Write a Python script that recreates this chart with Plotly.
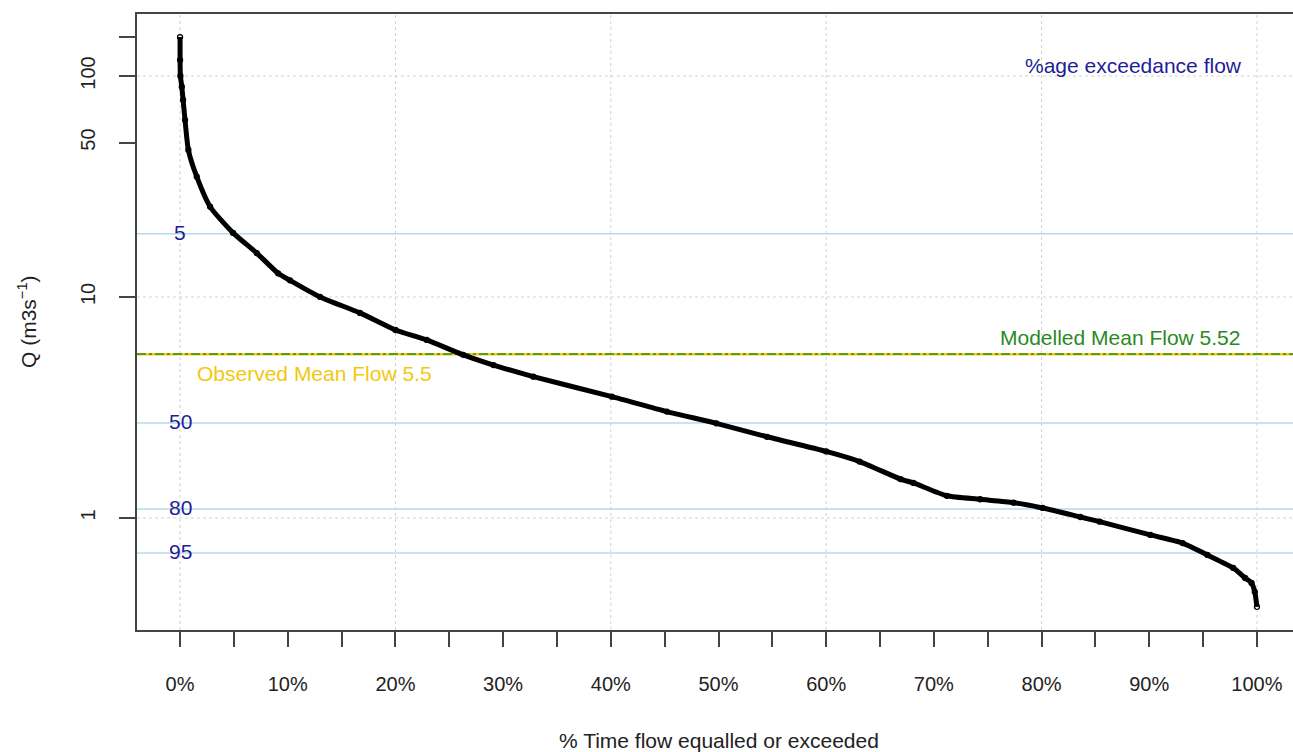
import math
import plotly.graph_objects as go

# ---- data ----
pct_exceed = [0.0, 0.0, 0.03, 0.16, 0.28, 0.46, 0.77, 1.55, 2.79, 4.92,
              7.12, 9.1, 10.2, 13.0, 16.7, 20.0, 22.9, 26.3, 29.1, 32.8, 40.1, 45.2, 49.8,
              54.5, 60.0, 63.1, 66.9, 68.1, 71.2, 74.3, 77.4, 80.1, 83.6, 85.4, 90.1, 93.1,
              95.4, 97.8, 98.9, 99.5, 99.8, 100.0]
flow_q = [150, 118, 100, 89.4, 77.9, 63.2, 46.3, 35.0, 25.6, 19.5,
          15.8, 12.8, 11.9, 10.0, 8.47, 7.09, 6.39, 5.47, 4.92, 4.36, 3.54, 3.03, 2.68,
          2.33, 2.00, 1.80, 1.50, 1.44, 1.26, 1.215, 1.173, 1.11, 1.01, 0.962, 0.838, 0.77,
          0.68, 0.594, 0.535, 0.508, 0.463, 0.396]

exceed_labels = ["5", "50", "80", "95"]
exceed_flows = [19.3, 2.69, 1.098, 0.695]

observed_mean = 5.5
modelled_mean = 5.52

x_tick_vals = list(range(0, 101, 5))
x_tick_text = [f"{v}%" if v % 10 == 0 else "" for v in x_tick_vals]
x_grid = [0, 20, 40, 60, 80, 100]
y_tick_vals = [1, 10, 50, 100, 150]
y_tick_text = ["1", "10", "50", "100", ""]
y_grid = [1, 10, 100]

NAVY = "#1e1e96"
GOLD = "#F2C80F"
GREEN = "#2a8a22"
FONT = "Liberation Sans, Arial, sans-serif"
TXT = 21
TICK = 20

W, H = 1293, 752
ML, MR, MT, MB = 137, 0, 14, 122
pw, ph = W - ML - MR, H - MT - MB

fig = go.Figure()

shapes = []
for gx in x_grid:
    shapes.append(dict(type="line", xref="x", yref="paper", x0=gx, x1=gx, y0=0, y1=1,
                       line=dict(color="#d2d2d2", width=1, dash="dot"), layer="below"))
for gy in y_grid:
    shapes.append(dict(type="line", xref="paper", yref="y", x0=0, x1=1, y0=gy, y1=gy,
                       line=dict(color="#d2d2d2", width=1, dash="dot"), layer="below"))
for fq in exceed_flows:
    shapes.append(dict(type="line", xref="paper", yref="y", x0=0, x1=1, y0=fq, y1=fq,
                       line=dict(color="#b5dcea", width=1.5), layer="below"))
shapes.append(dict(type="line", xref="paper", yref="y", x0=0, x1=1, y0=observed_mean, y1=observed_mean,
                   line=dict(color=GOLD, width=2.5), layer="below"))
shapes.append(dict(type="line", xref="paper", yref="y", x0=0, x1=1, y0=modelled_mean, y1=modelled_mean,
                   line=dict(color=GREEN, width=1.3, dash="dashdot"), layer="below"))

fig.add_trace(go.Scatter(
    x=pct_exceed, y=flow_q, mode="lines+markers",
    line=dict(color="black", width=5, shape="spline", smoothing=0.6),
    marker=dict(symbol="circle-open", size=5, color="black", line=dict(width=1.3)),
    showlegend=False, hoverinfo="skip"))

annotations = []
for lab, fq in zip(exceed_labels, exceed_flows):
    annotations.append(dict(x=0, y=math.log10(fq), xref="x", yref="y", yanchor="middle", yshift=1,
                            text=lab, showarrow=False, font=dict(family=FONT, size=TXT, color=NAVY)))
annotations.append(dict(x=88.5, y=math.log10(111), xref="x", yref="y", text="%age exceedance flow",
                        showarrow=False, font=dict(family=FONT, size=TXT, color=NAVY)))
annotations.append(dict(x=98.6, y=math.log10(modelled_mean), xref="x", yref="y", xanchor="right",
                        yanchor="middle", yshift=17, text=f"Modelled Mean Flow {modelled_mean}",
                        showarrow=False, font=dict(family=FONT, size=TXT, color=GREEN)))
annotations.append(dict(x=1.4, y=math.log10(observed_mean), xref="x", yref="y", xanchor="left",
                        yanchor="middle", yshift=-19, text=f"Observed Mean Flow {observed_mean}",
                        showarrow=False, font=dict(family=FONT, size=TXT, color=GOLD)))
annotations.append(dict(x=(719 - ML) / pw, y=(H - MB - 740) / ph, xref="paper", yref="paper",
                        xanchor="center", yanchor="middle",
                        text="% Time flow equalled or exceeded",
                        showarrow=False, font=dict(family=FONT, size=TXT, color="#222")))
annotations.append(dict(x=(27 - ML) / pw, y=(H - MB - 322) / ph, xref="paper", yref="paper",
                        xanchor="center", yanchor="middle", textangle=-90,
                        text="Q (m3s<sup>\u22121</sup>)",
                        showarrow=False, font=dict(family=FONT, size=TXT, color="#222")))

fig.update_layout(
    width=W, height=H,
    margin=dict(l=ML, r=MR, t=MT, b=MB, pad=0),
    paper_bgcolor="white", plot_bgcolor="white",
    font=dict(family=FONT, size=TICK, color="#222"),
    shapes=shapes, annotations=annotations,
    xaxis=dict(range=[-4, 103.35], tickvals=x_tick_vals, ticktext=x_tick_text,
               showgrid=False, zeroline=False, showline=True, linecolor="#444", linewidth=1.5,
               mirror=True, ticks="outside", ticklen=15, tickwidth=1.5, tickcolor="#444",
               ticklabelstandoff=20, tickfont=dict(size=TICK, color="#222")),
    yaxis=dict(type="log", range=[-0.507, 2.2805], tickvals=y_tick_vals, ticktext=y_tick_text,
               showgrid=False, zeroline=False, showline=True, linecolor="#444", linewidth=1.5,
               mirror=False, ticks="outside", ticklen=16, tickwidth=1.5, tickcolor="#444",
               tickangle=-90, ticklabelstandoff=16, tickfont=dict(size=TICK, color="#222")),
)

fig.write_html("out.html", config={"displayModeBar": False},
               post_script="document.body.style.margin='0';document.body.style.overflow='hidden';")
